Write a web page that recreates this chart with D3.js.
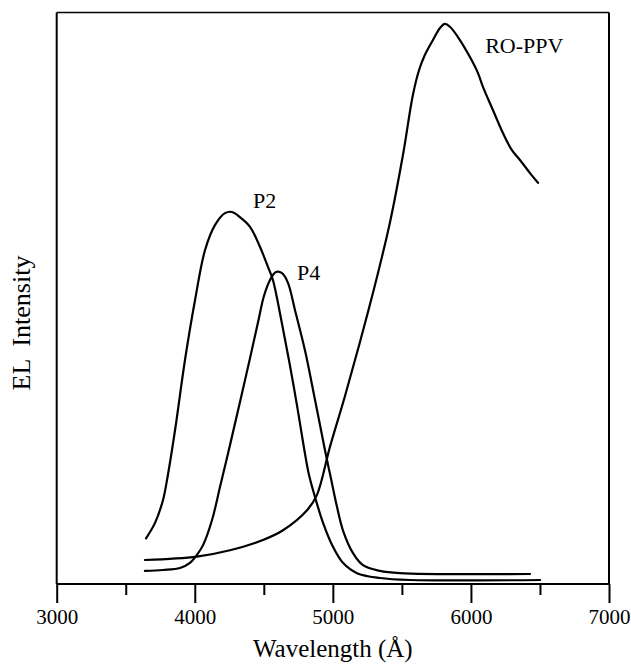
<!DOCTYPE html>
<html>
<head>
<meta charset="utf-8">
<script src="https://cdn.jsdelivr.net/npm/d3@7"></script>
<style>
  html, body { margin: 0; padding: 0; background: #fff; }
  svg { display: block; }
  text { font-family: "Liberation Serif", "Times New Roman", serif; fill: #000; }
</style>
</head>
<body>
<svg id="chart" width="631" height="666"></svg>
<script>
// ---- Data (wavelength in Å, EL intensity in arbitrary units) ----
const roppvWavelength = [3639, 4016, 4255, 4494, 4639, 4813, 4885, 4979, 5088, 5196, 5305, 5414, 5508, 5580, 5624, 5667, 5725, 5776, 5812, 5848, 5906, 5993, 6051, 6087, 6160, 6232, 6297, 6355, 6428, 6486];
const roppvIntensity  = [4.2, 4.8, 5.9, 7.7, 9.4, 12.9, 15.6, 24.0, 32.9, 42.3, 52.3, 63.3, 75.1, 85.6, 89.9, 92.6, 95.2, 97.3, 98.0, 97.5, 95.7, 92.2, 89.4, 87.0, 82.9, 78.9, 75.9, 74.2, 71.9, 70.2];

const p2Wavelength = [3647, 3712, 3770, 3799, 3857, 3929, 4002, 4074, 4146, 4219, 4269, 4327, 4400, 4472, 4530, 4566, 4624, 4682, 4740, 4791, 4827, 4871, 4929, 5001, 5073, 5175, 5341, 5559, 6501];
const p2Intensity  = [8.0, 10.7, 14.7, 18.2, 26.9, 39.2, 49.7, 58.4, 62.8, 64.9, 65.1, 64.2, 62.5, 59.0, 55.5, 53.2, 46.5, 39.2, 31.3, 23.8, 19.1, 15.2, 10.7, 6.5, 3.7, 1.9, 1.05, 0.7, 0.7];

const p4Wavelength = [3639, 3770, 3893, 3965, 4016, 4060, 4125, 4183, 4255, 4327, 4400, 4458, 4501, 4545, 4588, 4632, 4675, 4726, 4798, 4871, 4943, 4986, 5030, 5073, 5146, 5218, 5341, 5486, 6428];
const p4Intensity  = [2.3, 2.45, 2.8, 3.7, 5.1, 6.8, 11.2, 17.0, 24.3, 31.8, 39.5, 45.8, 50.4, 53.2, 54.6, 54.4, 52.7, 47.9, 40.9, 32.2, 23.4, 18.5, 13.5, 9.4, 5.4, 3.3, 2.3, 1.9, 1.75];

const seriesNames = ["RO-PPV", "P2", "P4"];
const labelWavelength = [6103, 4422, 4740];
const labelIntensity  = [92.9, 65.8, 53.2];

const majorTicks = [3000, 4000, 5000, 6000, 7000];
const minorTicks = [3500, 4500, 5500, 6500];
const xDomain = [3000, 7000];
const yDomain = [0, 100];
const xTitle = "Wavelength (Å)";
const yTitle = "EL  Intensity";

// ---- Layout ----
const svg = d3.select("#chart");
const mLeft = 56.7, mRight = 609, mTop = 12.5, mBottom = 584;

const x = d3.scaleLinear().domain(xDomain).range([mLeft, mRight]);
const y = d3.scaleLinear().domain(yDomain).range([mBottom, mTop]);

// frame
const g = svg.append("g");
g.append("line").attr("x1", mLeft).attr("x2", mLeft).attr("y1", mTop).attr("y2", mBottom)
  .attr("stroke", "#000").attr("stroke-width", 2);
g.append("line").attr("x1", mLeft).attr("x2", mRight).attr("y1", mTop).attr("y2", mTop)
  .attr("stroke", "#000").attr("stroke-width", 1.6);
g.append("line").attr("x1", mRight).attr("x2", mRight).attr("y1", mTop).attr("y2", mBottom)
  .attr("stroke", "#000").attr("stroke-width", 2);

// x axis: minor ticks
const minorAxis = d3.axisBottom(x).tickValues(minorTicks).tickSize(11).tickFormat("");
svg.append("g").attr("transform", `translate(0,${mBottom})`).call(minorAxis)
  .call(s => s.select(".domain").remove())
  .call(s => s.selectAll(".tick line").attr("stroke", "#000").attr("stroke-width", 2));

// x axis: major ticks with labels
const majorAxis = d3.axisBottom(x).tickValues(majorTicks).tickSize(19).tickPadding(6)
  .tickFormat(d3.format("d"));
const ax = svg.append("g").attr("transform", `translate(0,${mBottom})`).call(majorAxis);
ax.select(".domain").attr("stroke", "#000").attr("stroke-width", 2).attr("d", `M${mLeft},0H${mRight}`);
ax.selectAll(".tick line").attr("stroke", "#000").attr("stroke-width", 2);
ax.selectAll(".tick text").attr("font-size", 21).attr("font-family", "Liberation Serif").attr("fill", "#000");

// axis titles
svg.append("text").attr("x", (mLeft + mRight) / 2).attr("y", 657)
  .attr("text-anchor", "middle").attr("font-size", 25).text(xTitle);
svg.append("text").attr("transform", `translate(30,323) rotate(-90)`)
  .attr("text-anchor", "middle").attr("font-size", 26)
  .style("white-space", "pre").text(yTitle);

// curves
const series = [
  { w: roppvWavelength, v: roppvIntensity },
  { w: p2Wavelength, v: p2Intensity },
  { w: p4Wavelength, v: p4Intensity }
];
const line = d3.line()
  .x(d => x(d[0])).y(d => y(d[1]))
  .curve(d3.curveCatmullRom.alpha(0.5));
series.forEach(s => {
  const pts = s.w.map((w, i) => [w, s.v[i]]);
  svg.append("path").datum(pts).attr("d", line)
    .attr("fill", "none").attr("stroke", "#000").attr("stroke-width", 2.2)
    .attr("stroke-linejoin", "round").attr("stroke-linecap", "round");
});

// series labels
seriesNames.forEach((name, i) => {
  svg.append("text").attr("x", x(labelWavelength[i])).attr("y", y(labelIntensity[i]))
    .attr("font-size", 22).text(name);
});
</script>
</body>
</html>
